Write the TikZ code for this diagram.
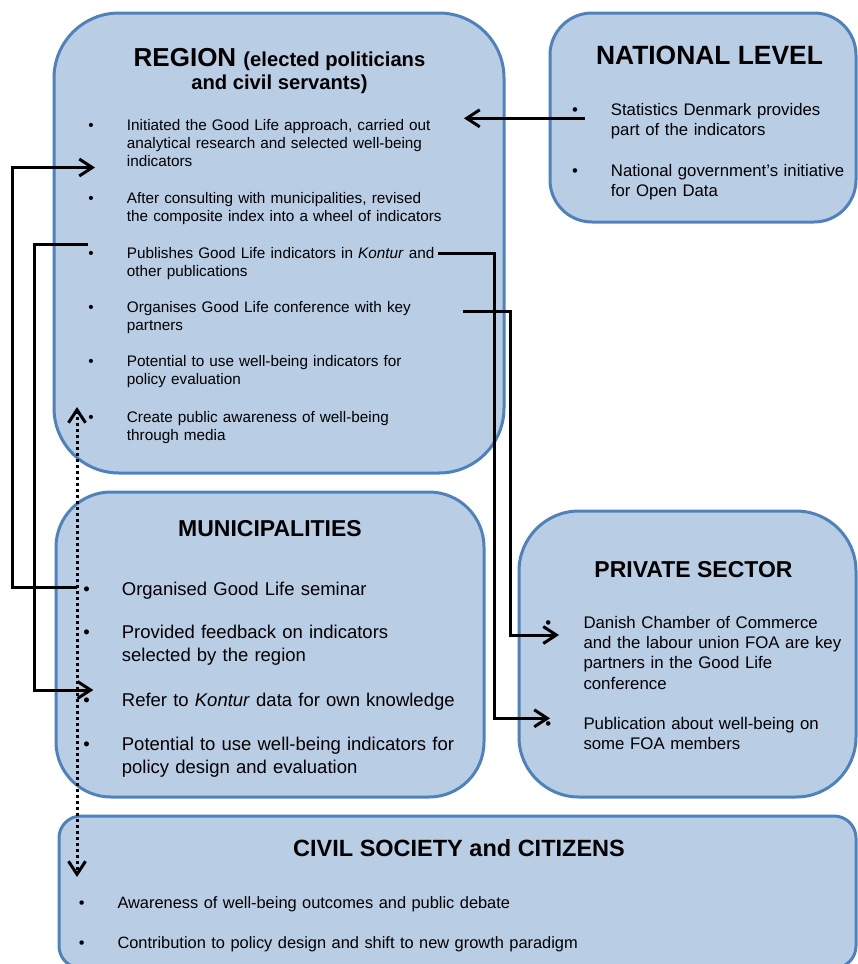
\documentclass[tikz,border=0pt]{standalone}
\usepackage{fontspec}
\setmainfont{Liberation Sans}
\usetikzlibrary{arrows.meta}
\definecolor{boxfill}{HTML}{B9CDE5}
\definecolor{boxline}{HTML}{4F81BD}

\begin{document}
\begin{tikzpicture}[x=1pt,y=-1pt,
  panel/.style={draw=boxline, fill=boxfill, line width=3pt, inner sep=0pt, outer sep=0pt, anchor=north west},
  ttl/.style={anchor=base, inner sep=0pt, font=\bfseries\fontsize{#1}{#1}\selectfont},
  dot/.style={anchor=base, inner sep=0pt, font=\fontsize{#1}{#1}\selectfont},
  item/.style 2 args={anchor=base west, inner sep=0pt, text width=700pt, align=left,
    font=\fontsize{#1}{#2}\selectfont},
  barb/.tip={Straight Barb[length=13pt,width=17pt]},
  link/.style={draw=black, line width=3pt, -barb},
  dotlink/.style={draw=black, line width=3pt, dash pattern=on 3pt off 3pt, barb-barb}
]
\useasboundingbox (0,0) rectangle (857,964);

% ---------- panels ----------
\node[panel, rounded corners=65pt, minimum width=450pt, minimum height=460pt] (region) at (54,13) {};
\node[panel, rounded corners=42pt, minimum width=306pt, minimum height=209pt] (national) at (550,13) {};
\node[panel, rounded corners=55pt, minimum width=428pt, minimum height=305pt] (muni) at (56,492) {};
\node[panel, rounded corners=60pt, minimum width=337pt, minimum height=286pt] (private) at (519,511) {};
\node[panel, rounded corners=22pt, minimum width=797pt, minimum height=152pt] (civil) at (59,816) {};

% ---------- REGION ----------
\node[ttl=26] (regT1) at (279.5,66) {REGION \fontsize{20.2}{24}\selectfont(elected politicians};
\node[ttl=20.2] (regT2) at (279.5,89) {and civil servants)};
\foreach \n/\y in {1/130.7,2/203.3,3/258.3,4/312.7,5/366.7,6/422.7}
  \node[dot=15.3] (regB\n) at (91,\y) {•};
\node[item={15.3}{18}] (reg1) at (126.7,130.7) {Initiated the Good Life approach, carried out\\analytical research and selected well-being\\indicators};
\node[item={15.3}{18}] (reg2) at (126.7,203.3) {After consulting with municipalities, revised\\the composite index into a wheel of indicators};
\node[item={15.3}{18}] (reg3) at (126.7,258.3) {Publishes Good Life indicators in \textit{Kontur} and\\other publications};
\node[item={15.3}{18}] (reg4) at (126.7,312.7) {Organises Good Life conference with key\\partners};
\node[item={15.3}{18}] (reg5) at (126.7,366.7) {Potential to use well-being indicators for\\policy evaluation};
\node[item={15.3}{18}] (reg6) at (126.7,422.7) {Create public awareness of well-being\\through media};

% ---------- NATIONAL LEVEL ----------
\node[ttl=26.4] (natT) at (709.5,64) {NATIONAL LEVEL};
\node[dot=16.75] (natB1) at (575,115) {•};
\node[dot=16.75] (natB2) at (575,176.7) {•};
\node[item={16.75}{20}] (nat1) at (610.7,115) {Statistics Denmark provides\\part of the indicators};
\node[item={16.75}{20}] (nat2) at (610.7,176.7) {National government’s initiative\\for Open Data};

% ---------- MUNICIPALITIES ----------
\node[ttl=23] (munT) at (270,536) {MUNICIPALITIES};
\foreach \n/\y in {1/595,2/638.3,3/706,4/750.7}
  \node[dot=18.5] (munB\n) at (86.7,\y) {•};
\node[item={18.5}{22.7}] (mun1) at (121.7,595) {Organised Good Life seminar};
\node[item={18.5}{22.7}] (mun2) at (121.7,638.3) {Provided feedback on indicators\\selected by the region};
\node[item={18.5}{22.7}] (mun3) at (121.7,706) {Refer to \textit{Kontur} data for own knowledge};
\node[item={18.5}{22.7}] (mun4) at (121.7,750.7) {Potential to use well-being indicators for\\policy design and evaluation};

% ---------- PRIVATE SECTOR ----------
\node[ttl=23] (privT) at (693.5,577.7) {PRIVATE SECTOR};
\node[dot=16.8] (privB1) at (548.3,628.3) {•};
\node[dot=16.8] (privB2) at (548.3,729.3) {•};
\node[item={16.8}{20.3}] (priv1) at (583.3,628.3) {Danish Chamber of Commerce\\and the labour union FOA are key\\partners in the Good Life\\conference};
\node[item={16.8}{20.3}] (priv2) at (583.3,729.3) {Publication about well-being on\\some FOA members};

% ---------- CIVIL SOCIETY and CITIZENS ----------
\node[ttl=23.5] (civT) at (459,856.7) {CIVIL SOCIETY and CITIZENS};
\node[dot=16.4] (civB1) at (81.7,908.3) {•};
\node[dot=16.4] (civB2) at (81.7,948.3) {•};
\node[item={16.4}{20}] (civ1) at (117.3,908.3) {Awareness of well-being outcomes and public debate};
\node[item={16.4}{20}] (civ2) at (117.3,948.3) {Contribution to policy design and shift to new growth paradigm};

% ---------- connector ends and rails ----------
\coordinate (natOut)   at (585,118.3);
\coordinate (regIn0)   at (464,118.3);
\coordinate (semOut)   at (77,587);
\coordinate (regIn1)   at (95,167.5);
\coordinate (pubOut)   at (88,244);
\coordinate (munIn3)   at (93.3,690);
\coordinate (andOut)   at (438,253.3);
\coordinate (privIn2)  at (550,718.3);
\coordinate (keyOut)   at (463,311);
\coordinate (privIn1)  at (559,635);
\coordinate (railA)    at (12,0);
\coordinate (railB)    at (34.5,0);
\coordinate (railC)    at (494.5,0);
\coordinate (railD)    at (510,0);
\coordinate (awareTop) at (77,407);
\coordinate (awareBot) at (77,877);

% ---------- connectors ----------
\draw[link] (natOut) -- (regIn0);
\draw[link] (semOut) -- (semOut -| railA) |- (regIn1);
\draw[link] (pubOut) -- (pubOut -| railB) |- (munIn3);
\draw[link] (andOut) -- (andOut -| railC) |- (privIn2);
\draw[link] (keyOut) -- (keyOut -| railD) |- (privIn1);
\draw[dotlink] (awareTop) -- (awareBot);
\end{tikzpicture}
\end{document}
